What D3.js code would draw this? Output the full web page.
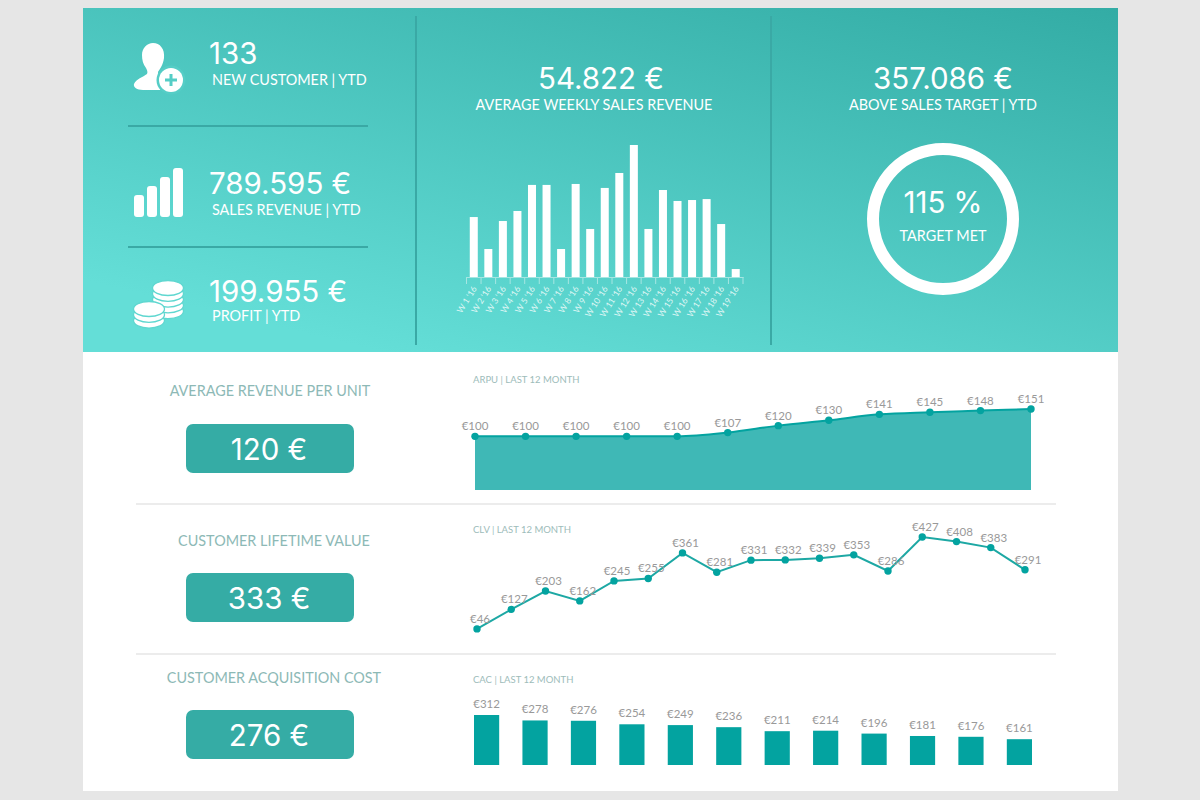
<!DOCTYPE html>
<html>
<head>
<meta charset="utf-8">
<script src="https://cdn.jsdelivr.net/npm/d3@7"></script>
<style>
  body { margin: 0; background: #e6e6e6; }
  svg { display: block; }
  text { font-family: Lato, "Open Sans", sans-serif; }
  text.big { font-family: Inter, Lato, sans-serif; font-weight: 400; }
</style>
</head>
<body>
<svg id="main" width="1200" height="800"></svg>
<script>
const weeks = ["W 1 '16", "W 2 '16", "W 3 '16", "W 4 '16", "W 5 '16", "W 6 '16", "W 7 '16", "W 8 '16", "W 9 '16", "W 10 '16",
  "W 11 '16", "W 12 '16", "W 13 '16", "W 14 '16", "W 15 '16", "W 16 '16", "W 17 '16", "W 18 '16", "W 19 '16"];
const weeklyRevenue = [37700, 17600, 35200, 41500, 57900, 57900, 17600, 58500, 30200, 56000,
  65400, 83000, 30200, 54700, 47800, 48400, 49000, 33300, 5000];

const arpuValues = [100, 100, 100, 100, 100, 107, 120, 130, 141, 145, 148, 151];
const clvValues = [46, 127, 203, 162, 245, 255, 361, 281, 331, 332, 339, 353, 286, 427, 408, 383, 291];
const cacValues = [312, 278, 276, 254, 249, 236, 211, 214, 196, 181, 176, 161];

const targetMet = 115;

const svg = d3.select("#main");
const white = "#fff";
const dark = "#03a3a0";

const defs = svg.append("defs");
const grad = defs.append("linearGradient")
  .attr("id", "topGrad")
  .attr("gradientUnits", "userSpaceOnUse")
  .attr("x1", 1118).attr("y1", 8)
  .attr("x2", 1000).attr("y2", 500);
grad.append("stop").attr("offset", 0).attr("stop-color", "#33aca5");
grad.append("stop").attr("offset", 1).attr("stop-color", "#64ded7");

// panels
svg.append("rect").attr("x", 83).attr("y", 8).attr("width", 1035).attr("height", 783).attr("fill", white);
svg.append("rect").attr("x", 83).attr("y", 8).attr("width", 1035).attr("height", 344).attr("fill", "url(#topGrad)");

// dividers
[416, 771].forEach((x) => {
  svg.append("line").attr("x1", x).attr("x2", x).attr("y1", 16).attr("y2", 345)
    .attr("stroke", "#3aa9a5").attr("stroke-width", 2);
});
[126, 247].forEach((y) => {
  svg.append("line").attr("x1", 128).attr("x2", 368).attr("y1", y).attr("y2", y)
    .attr("stroke", "#3aa9a5").attr("stroke-width", 2);
});
[504, 654].forEach((y) => {
  svg.append("line").attr("x1", 136).attr("x2", 1056).attr("y1", y).attr("y2", y)
    .attr("stroke", "#ececec").attr("stroke-width", 2);
});

function label(x, y, str, size, color, anchor) {
  return svg.append("text")
    .attr("x", x).attr("y", y)
    .attr("font-size", size)
    .attr("fill", color)
    .attr("text-anchor", anchor || "start")
    .text(str);
}

function bigLabel(x, y, str, anchor) {
  return label(x, y, str, 29.5, white, anchor).attr("class", "big");
}

// top left kpis
bigLabel(209, 64, "133");
label(212, 85, "NEW CUSTOMER | YTD", 14.4, white);
bigLabel(209, 194, "789.595 €");
label(212, 215, "SALES REVENUE | YTD", 14.4, white);
bigLabel(209, 302, "199.955 €");
label(212, 321, "PROFIT | YTD", 14.4, white);

// top middle and right kpis
bigLabel(601, 89, "54.822 €", "middle");
label(594, 110, "AVERAGE WEEKLY SALES REVENUE", 14.4, white, "middle");
bigLabel(943, 89, "357.086 €", "middle");
label(943, 110, "ABOVE SALES TARGET | YTD", 14.4, white, "middle");
bigLabel(943, 213, targetMet + " %", "middle");
label(943, 241, "TARGET MET", 14.4, white, "middle");

// icons
const userIcon = svg.append("g").attr("fill", white);
userIcon.append("path")
  .attr("d", "M153,43 C160,43 165,49 164,58 C163,65 160,69 158,72 C158,76 162,78 166,80 L160,90 L143,90 C137,90 133,87 134,84 C136,79 143,77 147,74 C148,72 147,70 146,68 C143,64 142,60 142,55 C142,48 147,43 153,43 Z");
userIcon.append("circle").attr("cx", 171).attr("cy", 80).attr("r", 14.5).attr("fill", "#55cdc6");
userIcon.append("circle").attr("cx", 171).attr("cy", 80).attr("r", 12);
userIcon.append("rect").attr("x", 165).attr("y", 78.5).attr("width", 12).attr("height", 3).attr("fill", "#55cdc6");
userIcon.append("rect").attr("x", 169.5).attr("y", 74).attr("width", 3).attr("height", 12).attr("fill", "#55cdc6");

const iconBars = [
  { x: 134, top: 195 },
  { x: 147, top: 186 },
  { x: 160, top: 177 },
  { x: 173, top: 168 },
];
svg.append("g").selectAll("rect").data(iconBars).join("rect")
  .attr("x", (d) => d.x).attr("y", (d) => d.top)
  .attr("width", 10).attr("height", (d) => 217 - d.top)
  .attr("rx", 3).attr("fill", white);

function coins(cx, topY, rx, ry, layers, gap) {
  const g = svg.append("g");
  d3.range(layers - 1, -1, -1).forEach((i) => {
    g.append("ellipse")
      .attr("cx", cx).attr("cy", topY + i * gap)
      .attr("rx", rx).attr("ry", ry)
      .attr("fill", white)
      .attr("stroke", "#5fd7d0")
      .attr("stroke-width", 1.3);
  });
}
coins(168, 288, 15.5, 7.5, 5, 5.8);
coins(149, 309, 15.5, 7.5, 3, 5.8);

// weekly revenue bars
const xWeek = d3.scaleBand().domain(weeks).range([466.5, 743]).paddingInner(0.45).paddingOuter(0.225);
const yWeek = d3.scaleLinear().domain([0, 83000]).range([277, 145]);

svg.append("g").selectAll("rect").data(weeklyRevenue).join("rect")
  .attr("x", (d, i) => xWeek(weeks[i]))
  .attr("y", (d) => yWeek(d))
  .attr("width", xWeek.bandwidth())
  .attr("height", (d) => yWeek(0) - yWeek(d))
  .attr("fill", white);

const weekAxis = svg.append("g")
  .attr("transform", "translate(0,277)")
  .call(d3.axisBottom(xWeek).tickSize(0).tickPadding(0));
weekAxis.select(".domain").attr("stroke", "#a6e6e2");
weekAxis.selectAll("text")
  .attr("font-size", 8.5)
  .attr("font-family", "Lato")
  .attr("fill", "#dff6f4")
  .attr("text-anchor", "end")
  .attr("y", 0)
  .attr("dx", "-8")
  .attr("dy", "9")
  .attr("transform", "rotate(-58)");
weekAxis.append("g").selectAll("line").data(d3.range(weeks.length + 1)).join("line")
  .attr("x1", (i) => xWeek.range()[0] + i * xWeek.step())
  .attr("x2", (i) => xWeek.range()[0] + i * xWeek.step())
  .attr("y1", 0).attr("y2", 7)
  .attr("stroke", "#a6e6e2");

// target ring
const ringArc = d3.arc().innerRadius(64).outerRadius(76);
svg.append("path")
  .attr("transform", "translate(943,219)")
  .attr("d", ringArc({ startAngle: 0, endAngle: 2 * Math.PI }))
  .attr("fill", white);

// bottom left kpis
const bottomKpis = [
  { title: "AVERAGE REVENUE PER UNIT", value: "120 €", tx: 270, ty: 396, boxY: 424 },
  { title: "CUSTOMER LIFETIME VALUE", value: "333 €", tx: 274, ty: 546, boxY: 573 },
  { title: "CUSTOMER ACQUISITION COST", value: "276 €", tx: 274, ty: 683, boxY: 710 },
];
bottomKpis.forEach((k) => {
  label(k.tx, k.ty, k.title, 14.4, "#8db9b6", "middle");
  svg.append("rect")
    .attr("x", 186).attr("y", k.boxY)
    .attr("width", 168).attr("height", 49)
    .attr("rx", 7)
    .attr("fill", "#35aca5");
  bigLabel(269, k.boxY + 36, k.value, "middle");
});

label(473, 383, "ARPU | LAST 12 MONTH", 9.5, "#9dbcba");
label(473, 533, "CLV | LAST 12 MONTH", 9.5, "#9dbcba");
label(473, 683, "CAC | LAST 12 MONTH", 9.5, "#9dbcba");

function valueLabels(values, xFn, yFn, dx, dy) {
  svg.append("g").selectAll("text").data(values).join("text")
    .attr("x", (d, i) => xFn(i) + dx)
    .attr("y", (d) => yFn(d) + dy)
    .attr("text-anchor", "middle")
    .attr("font-size", 11.5)
    .attr("fill", "#999")
    .text((d) => "€" + d);
}

// arpu area
const xArpu = d3.scalePoint().domain(d3.range(arpuValues.length)).range([475, 1031]);
const yArpu = d3.scaleLinear().domain([0, 151]).range([490, 409]);

svg.append("path").datum(arpuValues)
  .attr("fill", "#3fb8b6")
  .attr("d", d3.area().x((d, i) => xArpu(i)).y0(yArpu(0)).y1((d) => yArpu(d)).curve(d3.curveMonotoneX));
svg.append("path").datum(arpuValues)
  .attr("fill", "none").attr("stroke", dark).attr("stroke-width", 2)
  .attr("d", d3.line().x((d, i) => xArpu(i)).y((d) => yArpu(d)).curve(d3.curveMonotoneX));
svg.append("g").selectAll("circle").data(arpuValues).join("circle")
  .attr("cx", (d, i) => xArpu(i)).attr("cy", (d) => yArpu(d)).attr("r", 3.7).attr("fill", dark);
valueLabels(arpuValues, xArpu, yArpu, 0, -6);

// clv line
const xClv = d3.scalePoint().domain(d3.range(clvValues.length)).range([477, 1025]);
const yClv = d3.scaleLinear().domain([0, 427]).range([640, 537]);

svg.append("path").datum(clvValues)
  .attr("fill", "none").attr("stroke", "#1da8a4").attr("stroke-width", 2)
  .attr("d", d3.line().x((d, i) => xClv(i)).y((d) => yClv(d)));
svg.append("g").selectAll("circle").data(clvValues).join("circle")
  .attr("cx", (d, i) => xClv(i)).attr("cy", (d) => yClv(d)).attr("r", 3.7).attr("fill", dark);
valueLabels(clvValues, xClv, yClv, 3, -6);

// cac bars
const xCac = d3.scaleBand().domain(d3.range(cacValues.length)).range([474, 1032]).paddingInner(0.48);
const yCac = d3.scaleLinear().domain([0, 312]).range([765, 715]);

svg.append("g").selectAll("rect").data(cacValues).join("rect")
  .attr("x", (d, i) => xCac(i))
  .attr("y", (d) => yCac(d))
  .attr("width", xCac.bandwidth())
  .attr("height", (d) => yCac(0) - yCac(d))
  .attr("fill", dark);
valueLabels(cacValues, (i) => xCac(i) + xCac.bandwidth() / 2, yCac, 0, -7);
</script>
</body>
</html>
